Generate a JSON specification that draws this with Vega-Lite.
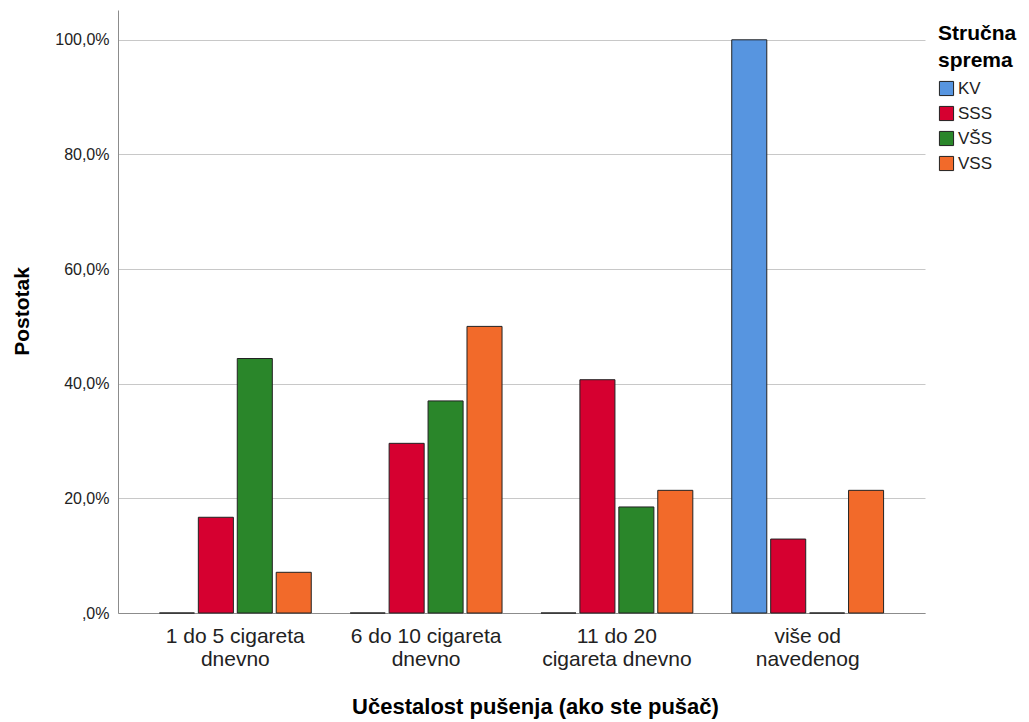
{
  "$schema": "https://vega.github.io/schema/vega-lite/v6.json",
  "autosize": {"type": "none"},
  "padding": {"left": 118, "top": 10, "right": 104, "bottom": 109},
  "width": 807,
  "height": 603,
  "background": "white",
  "config": {
    "font": "Liberation Sans",
    "view": {"stroke": null}
  },
  "data": {
    "values": [
      {"freq": "1 do 5 cigareta dnevno", "sprema": "KV", "pct": 0},
      {"freq": "1 do 5 cigareta dnevno", "sprema": "SSS", "pct": 16.7},
      {"freq": "1 do 5 cigareta dnevno", "sprema": "VŠS", "pct": 44.4},
      {"freq": "1 do 5 cigareta dnevno", "sprema": "VSS", "pct": 7.1},
      {"freq": "6 do 10 cigareta dnevno", "sprema": "KV", "pct": 0},
      {"freq": "6 do 10 cigareta dnevno", "sprema": "SSS", "pct": 29.6},
      {"freq": "6 do 10 cigareta dnevno", "sprema": "VŠS", "pct": 37.0},
      {"freq": "6 do 10 cigareta dnevno", "sprema": "VSS", "pct": 50.0},
      {"freq": "11 do 20 cigareta dnevno", "sprema": "KV", "pct": 0},
      {"freq": "11 do 20 cigareta dnevno", "sprema": "SSS", "pct": 40.7},
      {"freq": "11 do 20 cigareta dnevno", "sprema": "VŠS", "pct": 18.5},
      {"freq": "11 do 20 cigareta dnevno", "sprema": "VSS", "pct": 21.4},
      {"freq": "više od navedenog", "sprema": "KV", "pct": 100.0},
      {"freq": "više od navedenog", "sprema": "SSS", "pct": 12.9},
      {"freq": "više od navedenog", "sprema": "VŠS", "pct": 0},
      {"freq": "više od navedenog", "sprema": "VSS", "pct": 21.4}
    ]
  },
  "mark": {"type": "bar", "stroke": "#222222", "strokeWidth": 1},
  "encoding": {
    "x": {
      "field": "freq",
      "type": "nominal",
      "sort": ["1 do 5 cigareta dnevno", "6 do 10 cigareta dnevno", "11 do 20 cigareta dnevno", "više od navedenog"],
      "scale": {"paddingInner": 0, "paddingOuter": 0.115},
      "axis": {
        "title": "Učestalost pušenja (ako ste pušač)",
        "titleFont": "Liberation Sans",
        "titleFontSize": 22,
        "titleFontWeight": "bold",
        "titleColor": "#000000",
        "titleBaseline": "middle",
        "titleY": 93,
        "titleX": 417,
        "labelAngle": 0,
        "labelFontSize": 21,
        "labelColor": "#222222",
        "labelLineHeight": 23,
        "labelPadding": 12,
        "labelBaseline": "top",
        "ticks": false,
        "domainColor": "#8c8c8c",
        "domainWidth": 1,
        "labelExpr": "datum.value == '1 do 5 cigareta dnevno' ? ['1 do 5 cigareta', 'dnevno'] : datum.value == '6 do 10 cigareta dnevno' ? ['6 do 10 cigareta', 'dnevno'] : datum.value == '11 do 20 cigareta dnevno' ? ['11 do 20', 'cigareta dnevno'] : ['više od', 'navedenog']"
      }
    },
    "xOffset": {
      "field": "sprema",
      "type": "nominal",
      "sort": ["KV", "SSS", "VŠS", "VSS"],
      "scale": {"paddingInner": 0.1, "paddingOuter": 0.5}
    },
    "y": {
      "field": "pct",
      "type": "quantitative",
      "scale": {"domain": [0, 105.2], "nice": false},
      "axis": {
        "title": "Postotak",
        "titleFontSize": 21,
        "titleFontWeight": "bold",
        "titleColor": "#000000",
        "titleAngle": -90,
        "titleBaseline": "middle",
        "titleAlign": "center",
        "titleX": -96,
        "titleY": 301,
        "values": [0, 20, 40, 60, 80, 100],
        "labelExpr": "datum.value == 0 ? ',0%' : replace(format(datum.value, '.1f'), '.', ',') + '%'",
        "labelFontSize": 16,
        "labelColor": "#222222",
        "labelPadding": 9,
        "ticks": false,
        "grid": true,
        "gridColor": "#c8c8c8",
        "gridWidth": 1,
        "domainColor": "#8c8c8c",
        "domainWidth": 1
      }
    },
    "color": {
      "field": "sprema",
      "type": "nominal",
      "sort": ["KV", "SSS", "VŠS", "VSS"],
      "scale": {
        "domain": ["KV", "SSS", "VŠS", "VSS"],
        "range": ["#5795e0", "#d60030", "#2a862a", "#f26a2a"]
      },
      "legend": {
        "title": ["Stručna", "sprema"],
        "titleFontSize": 21,
        "titleFontWeight": "bold",
        "titleColor": "#000000",
        "titleLineHeight": 27,
        "titlePadding": 9,
        "labelFontSize": 17,
        "labelColor": "#222222",
        "symbolType": "square",
        "symbolSize": 200,
        "symbolStrokeColor": "#222222",
        "symbolStrokeWidth": 1,
        "symbolOpacity": 1,
        "labelOffset": 3,
        "rowPadding": 6,
        "orient": "none",
        "legendX": 820,
        "legendY": 13
      }
    }
  }
}
